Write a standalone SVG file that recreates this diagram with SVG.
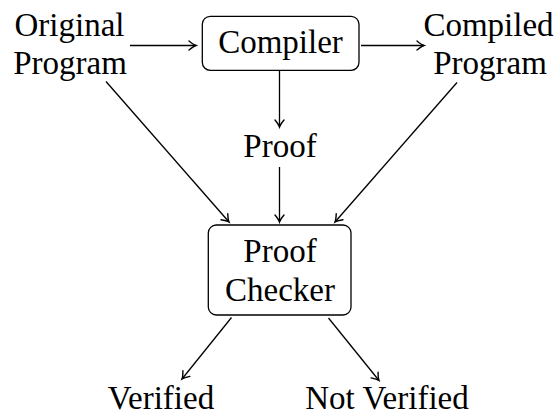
<svg xmlns="http://www.w3.org/2000/svg" width="558" height="415" viewBox="0 0 558 415">
  <style>
    .lbl { font-family: "Liberation Serif", "DejaVu Serif", serif; font-size: 33px; fill: #000; text-anchor: middle; }
    .box { fill: #fff; stroke: #000; stroke-width: 1.3; }
    .edge { fill: none; stroke: #000; stroke-width: 1.3; marker-end: url(#to); }
  </style>
  <defs>
    <!-- curved "to"-style arrow tip -->
    <marker id="to" markerWidth="12" markerHeight="12" viewBox="-8 -6 10 12" refX="0" refY="0" orient="auto" markerUnits="userSpaceOnUse">
      <path d="M -7,-4.5 Q -2.5,-0.8 0,0 Q -2.5,0.8 -7,4.5" fill="none" stroke="#000" stroke-width="1.4" stroke-linecap="round"/>
    </marker>
  </defs>
  <rect width="558" height="415" fill="#fff"/>

  <g id="connectors">
    <line class="edge" x1="130" y1="45.5" x2="196" y2="45.5"/>
    <line class="edge" x1="361" y1="45.5" x2="424" y2="45.5"/>
    <line class="edge" x1="279.5" y1="71" x2="279.5" y2="127"/>
    <line class="edge" x1="279.5" y1="167" x2="279.5" y2="222"/>
    <line class="edge" x1="106" y1="81.5" x2="229" y2="222"/>
    <line class="edge" x1="457" y1="82.5" x2="335" y2="222"/>
    <line class="edge" x1="231.5" y1="317.5" x2="182" y2="379"/>
    <line class="edge" x1="328.5" y1="318" x2="379" y2="380.5"/>
  </g>

  <g id="original-program">
    <text class="lbl" x="69.5" y="36">Original</text>
    <text class="lbl" x="70" y="74">Program</text>
  </g>

  <g id="compiler">
    <rect class="box" x="202.3" y="16.3" width="156.7" height="54" rx="8"/>
    <text class="lbl" x="280.5" y="52.5">Compiler</text>
  </g>

  <g id="compiled-program">
    <text class="lbl" x="488.5" y="35.5">Compiled</text>
    <text class="lbl" x="490" y="74">Program</text>
  </g>

  <g id="proof">
    <text class="lbl" x="280" y="156.5">Proof</text>
  </g>

  <g id="proof-checker">
    <rect class="box" x="208.3" y="225" width="142.7" height="90" rx="8"/>
    <text class="lbl" x="280" y="262">Proof</text>
    <text class="lbl" x="280" y="301">Checker</text>
  </g>

  <g id="verified">
    <text class="lbl" x="161" y="409">Verified</text>
  </g>

  <g id="not-verified">
    <text class="lbl" x="387" y="409">Not Verified</text>
  </g>
</svg>
